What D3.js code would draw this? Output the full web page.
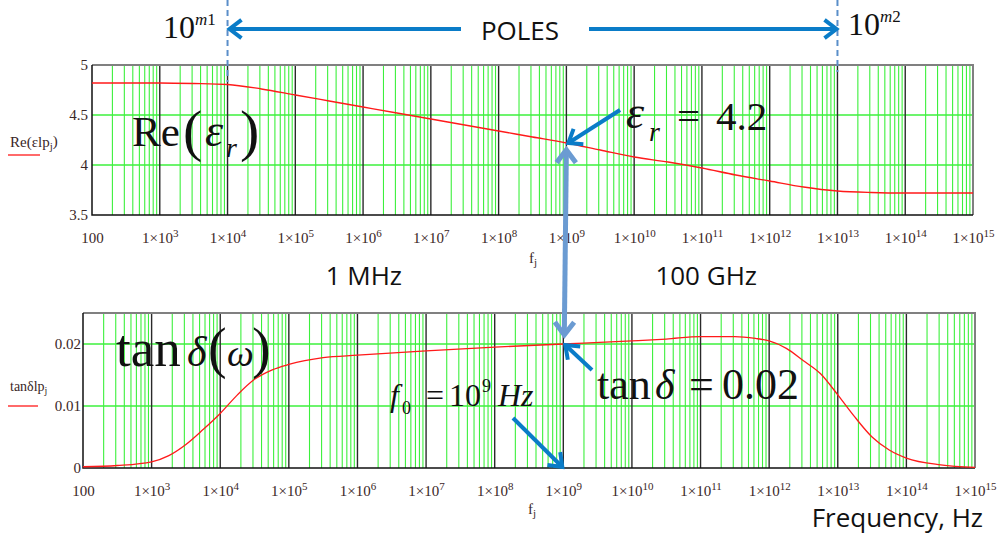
<!DOCTYPE html>
<html>
<head>
<meta charset="utf-8">
<script src="https://cdn.jsdelivr.net/npm/d3@7"></script>
<style>
  html, body { margin: 0; padding: 0; background: #fff; }
  svg { display: block; }
</style>
</head>
<body>
<div id="chart"></div>
<script>
// Re(eps_r) readings, top panel
const reFreq = [1e2, 3.16e2, 1e3, 3.16e3, 1e4, 3.16e4, 1e5, 3.16e5, 1e6, 3.16e6, 1e7, 3.16e7, 1e8, 3.16e8,
                1e9, 3.16e9, 1e10, 3.16e10, 1e11, 3.16e11, 1e12, 3.16e12, 1e13, 3.16e13, 1e14, 3.16e14, 1e15];
const reValues = [4.82, 4.82, 4.82, 4.815, 4.805, 4.76, 4.70, 4.64, 4.58, 4.52, 4.46, 4.40, 4.34, 4.28,
                  4.22, 4.15, 4.08, 4.03, 3.97, 3.90, 3.84, 3.78, 3.74, 3.725, 3.72, 3.72, 3.72];

// tan delta readings, bottom panel
const tanFreq = [1e2, 3.16e2, 1e3, 1.78e3, 3.16e3, 5.62e3, 1e4, 1.78e4, 3.16e4, 5.62e4, 1e5, 3.16e5, 1e6,
                 1e7, 1e8, 1e9, 1e10, 3.16e10, 1e11, 3.16e11, 6.3e11, 1e12, 1.78e12, 3.16e12, 5.62e12,
                 1e13, 1.78e13, 3.16e13, 5.62e13, 1e14, 3.16e14, 1e15];
const tanValues = [0.0002, 0.0004, 0.001, 0.002, 0.0038, 0.0062, 0.0088, 0.0118, 0.0143, 0.0158, 0.0167, 0.0178, 0.0182,
                   0.0189, 0.0195, 0.0200, 0.0205, 0.0208, 0.0212, 0.0212, 0.0209, 0.0205, 0.0193, 0.0173, 0.0152,
                   0.0118, 0.0082, 0.0050, 0.0029, 0.0016, 0.0005, 0.0001];

// axis ticks
const xTickValues = [1e2, 1e3, 1e4, 1e5, 1e6, 1e7, 1e8, 1e9, 1e10, 1e11, 1e12, 1e13, 1e14, 1e15];
const reTicks = [3.5, 4, 4.5, 5];
const tanTicks = [0, 0.01, 0.02];

const serif = "'Liberation Serif', 'Times New Roman', serif";
const sans = "'Open Sans', 'Liberation Sans', sans-serif";
const labelColor = "#3a2626";
const gridGreen = "#3cf03c";
const brightBlue = "#0a7cc8";
const steelBlue = "#6b9bd2";

const width = 1002, height = 534;

const svg = d3.select("#chart")
    .append("svg")
    .attr("width", width)
    .attr("height", height);

svg.append("rect").attr("width", width).attr("height", height).attr("fill", "#fff");

function drawPanel(cfg) {
    const x = d3.scaleLog().domain([1e2, 1e15]).range([cfg.left, cfg.right]);
    const y = d3.scaleLinear().domain(cfg.yDomain).range([cfg.bottom, cfg.top]);
    const g = svg.append("g");

    // minor vertical grid (2..9 x 10^n)
    const minor = [];
    for (let n = 2; n < 15; n++) {
        for (let k = 2; k <= 9; k++) minor.push(k * Math.pow(10, n));
    }
    g.selectAll(".minor")
        .data(minor)
        .enter()
        .append("line")
        .attr("x1", d => x(d)).attr("x2", d => x(d))
        .attr("y1", cfg.top).attr("y2", cfg.bottom)
        .attr("stroke", gridGreen)
        .attr("stroke-width", 1.1);

    // horizontal grid
    g.selectAll(".hgrid")
        .data(cfg.gridY)
        .enter()
        .append("line")
        .attr("x1", cfg.left).attr("x2", cfg.right)
        .attr("y1", d => y(d)).attr("y2", d => y(d))
        .attr("stroke", gridGreen)
        .attr("stroke-width", 1.3);

    // decade lines
    g.selectAll(".major")
        .data(xTickValues.slice(1, -1))
        .enter()
        .append("line")
        .attr("x1", d => x(d)).attr("x2", d => x(d))
        .attr("y1", cfg.top).attr("y2", cfg.bottom)
        .attr("stroke", "#2a2a2a")
        .attr("stroke-width", 1.4);

    // frame: grey top/right, black left/bottom
    g.append("path")
        .attr("d", `M${cfg.left},${cfg.top}H${cfg.right}V${cfg.bottom}`)
        .attr("fill", "none").attr("stroke", "#808080").attr("stroke-width", 2);
    g.append("path")
        .attr("d", `M${cfg.left},${cfg.top}V${cfg.bottom}H${cfg.right}`)
        .attr("fill", "none").attr("stroke", "#111").attr("stroke-width", 1.5);

    // curve
    const pts = cfg.freq.map((f, i) => ({ f: f, v: cfg.values[i] }));
    const line = d3.line()
        .x(d => x(d.f))
        .y(d => y(d.v))
        .curve(d3.curveMonotoneX);
    g.append("path")
        .datum(pts)
        .attr("fill", "none")
        .attr("stroke", "#ff1a1a")
        .attr("stroke-width", 1.3)
        .attr("d", line);

    // x axis
    const xAxis = g.append("g")
        .attr("transform", `translate(0,${cfg.bottom})`)
        .call(d3.axisBottom(x).tickValues(xTickValues).tickSize(0).tickPadding(17));
    xAxis.select(".domain").remove();
    xAxis.selectAll(".tick text")
        .attr("fill", labelColor)
        .style("font-family", serif)
        .style("font-size", "15px")
        .each(function(d) {
            const t = d3.select(this);
            t.text(null);
            const e = Math.round(Math.log10(d));
            if (e === 2) {
                t.text("100");
            } else {
                t.append("tspan").text("1\u00d710");
                t.append("tspan").attr("dy", "-0.5em").style("font-size", "11px").text(e);
            }
        });

    // y axis
    const yAxis = g.append("g")
        .attr("transform", `translate(${cfg.left},0)`)
        .call(d3.axisLeft(y).tickValues(cfg.yTicks).tickSize(0).tickPadding(cfg.yPad).tickFormat(d3.format("")));
    yAxis.select(".domain").remove();
    yAxis.selectAll(".tick text")
        .attr("fill", labelColor)
        .style("font-family", serif)
        .style("font-size", "15px");

    // axis title f_j
    const xt = g.append("text")
        .attr("x", cfg.fjX).attr("y", cfg.fjY)
        .attr("fill", labelColor)
        .style("font-family", serif)
        .style("font-size", "15px");
    xt.append("tspan").text("f");
    xt.append("tspan").attr("dy", "0.3em").style("font-size", "11px").text("j");

    // legend label on the left
    const lt = g.append("text")
        .attr("x", 10).attr("y", cfg.legY)
        .attr("fill", labelColor)
        .style("font-family", serif)
        .style("font-size", cfg.legSize + "px");
    cfg.legend(lt);
    g.append("line")
        .attr("x1", 8).attr("x2", cfg.legLine)
        .attr("y1", cfg.legLineY).attr("y2", cfg.legLineY)
        .attr("stroke", "#ff1a1a").attr("stroke-width", 1.3);

    return { x: x, y: y };
}

const pTop = drawPanel({
    left: 92, right: 973, top: 65, bottom: 215,
    yDomain: [3.5, 5], yTicks: reTicks, gridY: [4, 4.5], yPad: 4,
    freq: reFreq, values: reValues,
    fjX: 529, fjY: 263, legY: 147, legSize: 15, legLine: 40, legLineY: 155,
    legend: t => {
        t.append("tspan").text("Re(");
        t.append("tspan").text("\u03b5lp");
        t.append("tspan").attr("dy", "0.3em").style("font-size", "11px").text("j");
        t.append("tspan").attr("dy", "-0.3em").text(")");
    }
});

const pBot = drawPanel({
    left: 83, right: 975, top: 313, bottom: 468,
    yDomain: [0, 0.025], yTicks: tanTicks, gridY: [0.01, 0.02], yPad: 2,
    freq: tanFreq, values: tanValues,
    fjX: 528, fjY: 514, legY: 391, legSize: 14, legLine: 38, legLineY: 406,
    legend: t => {
        t.append("tspan").text("tan\u03b4lp");
        t.append("tspan").attr("dy", "0.3em").style("font-size", "10px").text("j");
    }
});

// ---- annotations ----
const ann = svg.append("g");

function chevron(x1, y1, x2, y2, color, w, len) {
    const a = Math.atan2(y2 - y1, x2 - x1);
    const s = 0.65;
    const p1 = [x2 - len * Math.cos(a - s), y2 - len * Math.sin(a - s)];
    const p2 = [x2 - len * Math.cos(a + s), y2 - len * Math.sin(a + s)];
    ann.append("path")
        .attr("d", `M${p1[0]},${p1[1]}L${x2},${y2}L${p2[0]},${p2[1]}`)
        .attr("fill", "none")
        .attr("stroke", color)
        .attr("stroke-width", w)
        .attr("stroke-linejoin", "miter");
}

function arrow(x1, y1, x2, y2, color, w, len) {
    ann.append("line")
        .attr("x1", x1).attr("y1", y1).attr("x2", x2).attr("y2", y2)
        .attr("stroke", color).attr("stroke-width", w);
    chevron(x1, y1, x2, y2, color, w, len);
}

// dashed pole markers at 10^4 and 10^13
const m1x = pTop.x(1e4), m2x = pTop.x(1e13);
[[m1x, 82], [m2x, 72]].forEach(([px, yEnd]) => {
    ann.append("line")
        .attr("x1", px).attr("x2", px)
        .attr("y1", 0).attr("y2", yEnd)
        .attr("stroke", "#5a8ec9")
        .attr("stroke-width", 2)
        .attr("stroke-dasharray", "6,4");
});

// POLES double arrow
arrow(461, 29, m1x + 2, 29, brightBlue, 4, 15);
arrow(589, 29, m2x - 1, 29, brightBlue, 4, 15);
ann.append("text")
    .attr("x", 520).attr("y", 40)
    .attr("text-anchor", "middle")
    .attr("fill", "#111")
    .style("font-family", sans)
    .style("font-size", "26px")
    .text("POLES");

// 10^m1, 10^m2
function powerLabel(x0, yb, sup) {
    const t = ann.append("text")
        .attr("x", x0).attr("y", yb)
        .attr("fill", "#111")
        .style("font-family", serif)
        .style("font-size", "32px");
    t.append("tspan").text("10");
    t.append("tspan").attr("dy", "-13").style("font-size", "17px").style("font-style", "italic").text("m");
    t.append("tspan").style("font-size", "17px").text(sup);
}
powerLabel(163, 38, "1");
powerLabel(848, 35, "2");

function put(txt, x0, yb, size, italic) {
    return ann.append("text")
        .attr("x", x0).attr("y", yb)
        .attr("fill", "#111")
        .style("font-family", serif)
        .style("font-size", size + "px")
        .style("font-style", italic ? "italic" : "normal")
        .text(txt);
}

// Re(eps_r)
put("Re", 132, 146, 43, false);
put("(", 183, 150, 58, false);
put("\u03b5", 205, 146, 46, true);
put("r", 226, 157, 28, true);
put(")", 240, 150, 58, false);

// eps_r = 4.2
put("\u03b5", 626, 128, 46, true);
put("r", 649, 141, 28, true);
put("=", 677, 130, 41, false);
put("4.2", 716, 130, 41, false);
arrow(620, 110, pTop.x(1e9) + 2, pTop.y(4.22), brightBlue, 4, 15);

// vertical double arrow linking both panels at f0
arrow(pBot.x(1e9) + 1, pBot.y(0.0205) - 6, pTop.x(1e9), pTop.y(4.22) + 7, steelBlue, 5, 16);
chevron(pTop.x(1e9), pTop.y(4.22) + 7, pBot.x(1e9) + 1, pBot.y(0.0205) - 6, steelBlue, 5, 16);

// 1 MHz / 100 GHz / Frequency
function sansText(txt, xEnd, yb) {
    ann.append("text")
        .attr("x", xEnd).attr("y", yb)
        .attr("text-anchor", "end")
        .attr("fill", "#111")
        .style("font-family", sans)
        .style("font-size", "26px")
        .text(txt);
}
sansText("1 MHz", 402, 285);
sansText("100 GHz", 757, 285);
sansText("Frequency, Hz", 983, 527);

// tan delta(omega)
put("tan", 116, 366, 53, false);
put("\u03b4", 187, 366, 42, true);
put("(", 208, 367, 56, false);
put("\u03c9", 227, 366, 38, true);
put(")", 252, 367, 56, false);

// tan delta = 0.02
put("tan", 597, 399, 44, false);
put("\u03b4", 655, 399, 42, true);
put("=", 689, 399, 44, false);
put("0.02", 722, 399, 44, false);
arrow(592, 370, pBot.x(1e9) + 2, pBot.y(0.02) + 1, brightBlue, 4, 15);

// f0 = 10^9 Hz
put("f", 390, 406, 32, true);
put("0", 402, 414, 18, false);
put("=", 426, 406, 32, false);
put("10", 449, 406, 32, false);
put("9", 482, 392, 18, false);
put("Hz", 498, 406, 32, true);
arrow(513, 418, pBot.x(1e9) - 1, pBot.y(0) - 1, brightBlue, 4, 15);
</script>
</body>
</html>
